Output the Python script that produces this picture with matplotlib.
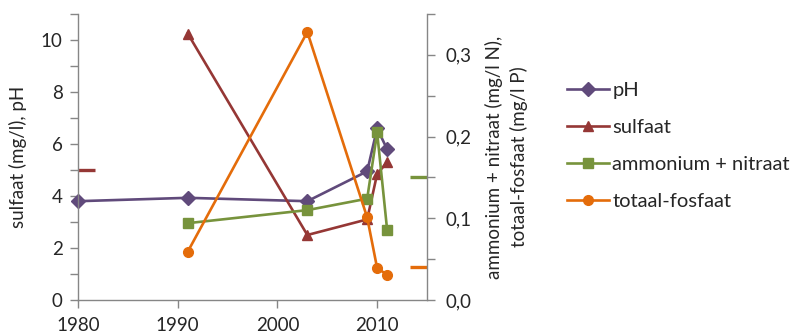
import matplotlib
matplotlib.use("Agg")
import matplotlib.pyplot as plt
from matplotlib.ticker import MultipleLocator, FuncFormatter

plt.rcParams['font.family'] = ['Lato', 'DejaVu Sans']

# ---- data ----
years_ph = [1980, 1991, 2003, 2009, 2010, 2011]
ph = [3.8, 3.93, 3.8, 4.95, 6.6, 5.8]

years_so4 = [1991, 2003, 2009, 2010, 2011]
sulfaat = [10.25, 2.5, 3.1, 4.85, 5.3]

years_n = [1991, 2003, 2009, 2010, 2011]
ammonium_nitraat = [0.094, 0.110, 0.124, 0.205, 0.086]

years_p = [1991, 2003, 2009, 2010, 2011]
totaal_fosfaat = [0.059, 0.328, 0.101, 0.039, 0.031]

# norm markers
norm_so4_year, norm_so4 = [1980], [5.0]
norm_np_year = [2015]
norm_n = [0.15]
norm_p = [0.04]

labels = ["pH", "sulfaat", "ammonium + nitraat", "totaal-fosfaat"]
colors = ["#604a7b", "#953735", "#77933c", "#e46c0a"]

FS = 13.5

fig = plt.figure(figsize=(7.92, 3.36), dpi=100)
ax1 = fig.add_axes([78/792, 1-300/336, (427-78)/792, (300-14)/336])
ax2 = ax1.twinx()

lw = 1.9
h1, = ax1.plot(years_ph, ph, color=colors[0], lw=lw, marker="D", ms=7, label=labels[0], clip_on=False)
h2, = ax1.plot(years_so4, sulfaat, color=colors[1], lw=lw, marker="^", ms=7.5, label=labels[1], clip_on=False)
ax1.plot(norm_so4_year, norm_so4, color=colors[1], marker="_", ms=25, mew=2.4, ls="none")

h3, = ax2.plot(years_n, ammonium_nitraat, color=colors[2], lw=lw, marker="s", ms=6.5, label=labels[2], clip_on=False)
h4, = ax2.plot(years_p, totaal_fosfaat, color=colors[3], lw=lw, marker="o", ms=7, label=labels[3], clip_on=False)
ax2.plot(norm_np_year, norm_n, color=colors[2], marker="_", ms=25, mew=2.4, ls="none")
ax2.plot(norm_np_year, norm_p, color=colors[3], marker="_", ms=25, mew=2.4, ls="none")

ax1.set_xlim(1980, 2015)
ax1.set_ylim(0, 11)
ax2.set_ylim(0, 0.35)

spine_c = "#868686"
text_c = "#262626"
for ax in (ax1, ax2):
    ax.spines["top"].set_visible(False)
    for s in ("left", "right", "bottom"):
        ax.spines[s].set_color(spine_c)
        ax.spines[s].set_linewidth(1.0)
    ax.tick_params(which="both", color=spine_c, length=6, width=1.0,
                   labelsize=FS, labelcolor=text_c, direction="out")

ax1.spines["right"].set_visible(False)
ax2.spines["left"].set_visible(False)
ax2.spines["bottom"].set_visible(False)

ax1.set_xticks([1980, 1990, 2000, 2010])
ax1.yaxis.set_major_locator(MultipleLocator(2))
ax1.yaxis.set_minor_locator(MultipleLocator(1))
ax2.yaxis.set_major_locator(MultipleLocator(0.1))
ax2.yaxis.set_minor_locator(MultipleLocator(0.05))
ax2.yaxis.set_major_formatter(FuncFormatter(lambda v, p: f"{v:.1f}".replace(".", ",")))
ax1.tick_params(axis="x", pad=6)
ax1.tick_params(axis="y", pad=5)
ax2.tick_params(axis="y", pad=7)

ax1.set_ylabel("sulfaat (mg/l), pH", fontsize=FS, color=text_c, labelpad=10)
ax2.set_ylabel("ammonium + nitraat (mg/l N),\ntotaal-fosfaat (mg/l P)", fontsize=FS,
               color=text_c, labelpad=10, rotation=90, linespacing=1.45)

fig.legend([h1, h2, h3, h4], labels, loc="center left",
           bbox_to_anchor=(549/792, 1-146/336), frameon=False, fontsize=14.5,
           handlelength=2.1, handletextpad=0.15, labelspacing=1.0,
           labelcolor=text_c)

fig.savefig("out.png", dpi=100)
